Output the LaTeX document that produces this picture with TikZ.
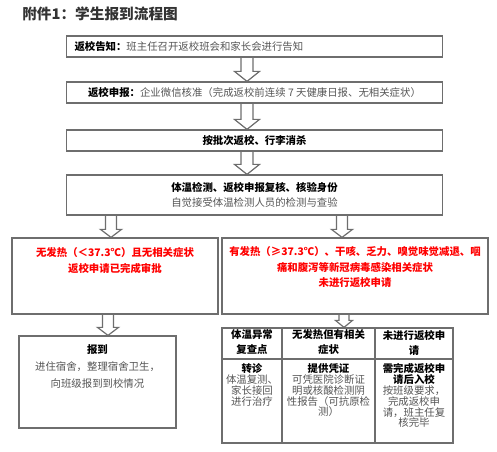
\documentclass[tikz,border=0pt]{standalone}
\usepackage{fontspec}
\setmainfont{Noto Sans CJK SC}
\usetikzlibrary{calc,backgrounds}
\definecolor{lc}{HTML}{6E6E6E}
\definecolor{gt}{HTML}{555555}
\definecolor{rd}{HTML}{FF0000}
\definecolor{tt}{HTML}{333333}
\tikzset{
  box/.style={draw=lc, line width=0.9pt, inner sep=0pt},
  txt/.style={font=\fontsize{7.8}{8.1}\selectfont, align=center, inner sep=0pt},
  barr/.style={draw=lc, line width=0.9pt, fill=white, line join=miter},
  grid/.style={draw=lc, line width=0.9pt}
}
% block arrow: x, from, to, shaft half width, head half width, head length
\newcommand\barrow[6]{%
  \coordinate (ax) at (#1,0);
  \draw[barr] ($(#2.south -| ax)+(-#4,0)$) -- ($(#3.north -| ax)+(-#4,-#6)$)
    -- ($(#3.north -| ax)+(-#5,-#6)$) -- (#3.north -| ax)
    -- ($(#3.north -| ax)+(#5,-#6)$) -- ($(#3.north -| ax)+(#4,-#6)$)
    -- ($(#2.south -| ax)+(#4,0)$);
}
\begin{document}
\begin{tikzpicture}[x=0.75pt, y=-0.75pt]
\path[use as bounding box] (0,0) rectangle (497,452);

\node[anchor=west, inner sep=0pt, text=tt, font=\fontsize{11}{12}\bfseries\selectfont] (title) at (22,14) {附件1：学生报到流程图};

% main boxes
\node[box, txt, minimum width=282pt, minimum height=15.75pt, text width=270pt, align=left] (b1) at (254.5,46.5)
  {\textbf{返校告知：}{\color{gt}班主任召开返校班会和家长会进行告知}};
\node[box, txt, minimum width=282pt, minimum height=15.75pt] (b2) at (254.5,92.5)
  {\textbf{返校申报：}{\color{gt}企业微信核准（完成返校前连续 7 天健康日报、无相关症状）}};
\node[box, txt, minimum width=282pt, minimum height=15.75pt] (b3) at (254.5,140.5)
  {\textbf{按批次返校、行李消杀}};
\node[box, txt, minimum width=282pt, minimum height=30pt, font=\fontsize{7.8}{11.2}\selectfont] (b4) at (254.5,195)
  {\textbf{体温检测、返校申报复核、核验身份}\\{\color{gt}自觉接受体温检测人员的检测与查验}};

\node[box, minimum width=154.5pt, minimum height=57pt] (b5l) at (115,276) {};
\node[txt, text=rd, font=\fontsize{7.8}{12}\bfseries\selectfont] (b5lt) at (115,261)
  {无发热（＜37.3℃）且无相关症状\\返校申请已完成审批};

\node[box, minimum width=199.5pt, minimum height=57pt] (b5r) at (355,276) {};
\node[txt, text=rd, font=\fontsize{7.8}{11.6}\bfseries\selectfont] (b5rt) at (355,267.5)
  {有发热（≥37.3℃）、干咳、乏力、嗅觉味觉减退、咽\\痛和腹泻等新冠病毒感染相关症状\\未进行返校申请};

\node[box, minimum width=117.75pt, minimum height=69pt] (b6) at (97.5,382) {};
\node[txt, font=\fontsize{7.8}{12.4}\selectfont] (b6t) at (97.5,366.5)
  {\textbf{报到}\\{\color{gt}进住宿舍，整理宿舍卫生，}\\{\color{gt}向班级报到到校情况}};

% table
\node[box, minimum width=173.25pt, minimum height=86.25pt] (tbl) at (337.5,385.5) {};
\coordinate (hr) at (0,359);
\coordinate (c1) at (282,0);
\coordinate (c2) at (375,0);
\draw[grid] (tbl.west |- hr) -- (tbl.east |- hr);
\draw[grid] (tbl.north -| c1) -- (tbl.south -| c1);
\draw[grid] (tbl.north -| c2) -- (tbl.south -| c2);

\node[txt, font=\fontsize{7.8}{11.25}\bfseries\selectfont] (h1) at (252,342.5) {体温异常\\复查点};
\node[txt, font=\fontsize{7.8}{11.25}\bfseries\selectfont] (h2) at (328.5,342.5) {无发热但有相关\\症状};
\node[txt, font=\fontsize{7.8}{11.25}\bfseries\selectfont] (h3) at (414,342.5) {未进行返校申\\请};

\node[txt, anchor=north] (d1) at (252,363.5)
  {\textbf{转诊}\\{\color{gt}体温复测、}\\{\color{gt}家长接回}\\{\color{gt}进行治疗}};
\node[txt, anchor=north] (d2) at (328.5,363.5)
  {\textbf{提供凭证}\\{\color{gt}可凭医院诊断证}\\{\color{gt}明或核酸检测阴}\\{\color{gt}性报告（可抗原检}\\{\color{gt}测）}};
\node[txt, anchor=north] (d3) at (414,363.5)
  {\textbf{需完成返校申}\\\textbf{请后入校}\\{\color{gt}按班级要求，}\\{\color{gt}完成返校申}\\{\color{gt}请，班主任复}\\{\color{gt}核完毕}};

% arrows (behind the boxes so the box borders stay whole)
\begin{pgfonlayer}{background}
\barrow{247}{b1}{b2}{6}{12.5}{10}
\barrow{247}{b2}{b3}{6}{12.5}{10}
\barrow{247}{b3}{b4}{6}{12.5}{10}
\barrow{111}{b4}{b5l}{5.5}{10.5}{8}
\barrow{342}{b4}{b5r}{5.5}{10.5}{8}
\barrow{108}{b5l}{b6}{5.5}{10.5}{8}
\barrow{344}{b5r}{tbl}{5}{8.5}{7}
\end{pgfonlayer}
\end{tikzpicture}
\end{document}
